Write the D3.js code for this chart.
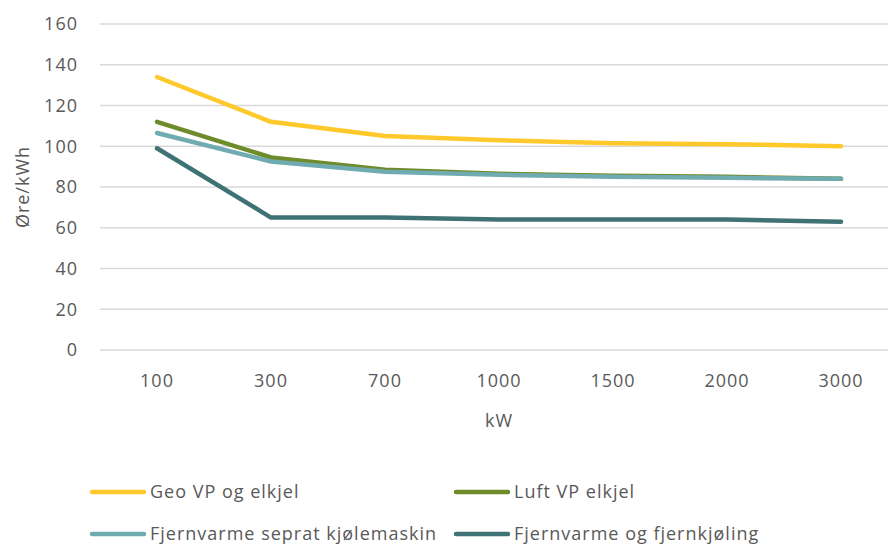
<!DOCTYPE html>
<html>
<head>
<meta charset="utf-8">
<script src="https://cdn.jsdelivr.net/npm/d3@7"></script>
<style>
  body { margin: 0; background: #fff; }
  text { font-family: "Open Sans", Lato, sans-serif; fill: #595959; letter-spacing: 1px; }
</style>
</head>
<body>
<div id="chart"></div>
<script>
let chart_width = 888;
let chart_height = 546;

let categories = ['100', '300', '700', '1000', '1500', '2000', '3000'];
let y_ticks = [0, 20, 40, 60, 80, 100, 120, 140, 160];
let series_names = ['Geo VP og elkjel', 'Luft VP elkjel', 'Fjernvarme seprat kjølemaskin', 'Fjernvarme og fjernkjøling'];
let geo_vp = [134, 112, 105, 103, 101.5, 101, 100];
let luft_vp = [112, 94.5, 88.5, 86.5, 85.5, 85, 84];
let fjv_seprat = [106.5, 92.5, 87.5, 86, 85, 84.5, 84];
let fjv_fjernkjol = [99, 65, 65, 64, 64, 64, 63];
let colors = ['#ffc92b', '#6e8b2a', '#70abb2', '#3e7274'];

let allSeries = [geo_vp, luft_vp, fjv_seprat, fjv_fjernkjol];
let font_size = '18px';

let svg = d3.select('#chart')
    .append('svg')
    .attr('width', chart_width)
    .attr('height', chart_height);

let xScale = d3.scaleBand().domain(categories).range([100, 898]);
let yScale = d3.scaleLinear().domain([0, 160]).range([350, 24]);

// grid
svg.append('g')
    .selectAll('line')
    .data(y_ticks)
    .enter()
    .append('line')
    .attr('x1', 100)
    .attr('x2', 888)
    .attr('y1', d => yScale(d))
    .attr('y2', d => yScale(d))
    .attr('stroke', '#d9d9d9')
    .attr('stroke-width', 1.3);

// y axis labels
svg.append('g')
    .selectAll('text')
    .data(y_ticks)
    .enter()
    .append('text')
    .text(d => d)
    .attr('x', 78)
    .attr('y', d => yScale(d))
    .attr('dy', '0.35em')
    .attr('text-anchor', 'end')
    .style('font-size', font_size);

svg.append('text')
    .text('Øre/kWh')
    .attr('transform', 'translate(23,187) rotate(-90)')
    .attr('text-anchor', 'middle')
    .attr('dy', '0.35em')
    .style('font-size', font_size);

// x axis labels
svg.append('g')
    .selectAll('text')
    .data(categories)
    .enter()
    .append('text')
    .text(d => d)
    .attr('x', d => xScale(d) + xScale.bandwidth() / 2)
    .attr('y', 381)
    .attr('dy', '0.35em')
    .attr('text-anchor', 'middle')
    .style('font-size', font_size);

svg.append('text')
    .text('kW')
    .attr('x', xScale('1000') + xScale.bandwidth() / 2)
    .attr('y', 421)
    .attr('dy', '0.35em')
    .attr('text-anchor', 'middle')
    .style('font-size', font_size);

// lines
let line = d3.line()
    .x((d, i) => xScale(categories[i]) + xScale.bandwidth() / 2)
    .y(d => yScale(d));

svg.append('g')
    .selectAll('path')
    .data(allSeries)
    .enter()
    .append('path')
    .attr('d', line)
    .attr('fill', 'none')
    .attr('stroke', (d, i) => colors[i])
    .attr('stroke-width', 4.5)
    .attr('stroke-linecap', 'round')
    .attr('stroke-linejoin', 'round');

// legend
let legendPos = [[92, 492], [456, 492], [92, 534], [456, 534]];
let legend = svg.append('g')
    .selectAll('g')
    .data(series_names)
    .enter()
    .append('g')
    .attr('transform', (d, i) => 'translate(' + legendPos[i][0] + ',' + legendPos[i][1] + ')');

legend.append('line')
    .attr('x1', 0)
    .attr('x2', 52)
    .attr('y1', 0)
    .attr('y2', 0)
    .attr('stroke', (d, i) => colors[i])
    .attr('stroke-width', 4.5)
    .attr('stroke-linecap', 'round');

legend.append('text')
    .text(d => d)
    .attr('x', 58)
    .attr('y', 0)
    .attr('dy', '0.32em')
    .style('font-size', font_size);
</script>
</body>
</html>
